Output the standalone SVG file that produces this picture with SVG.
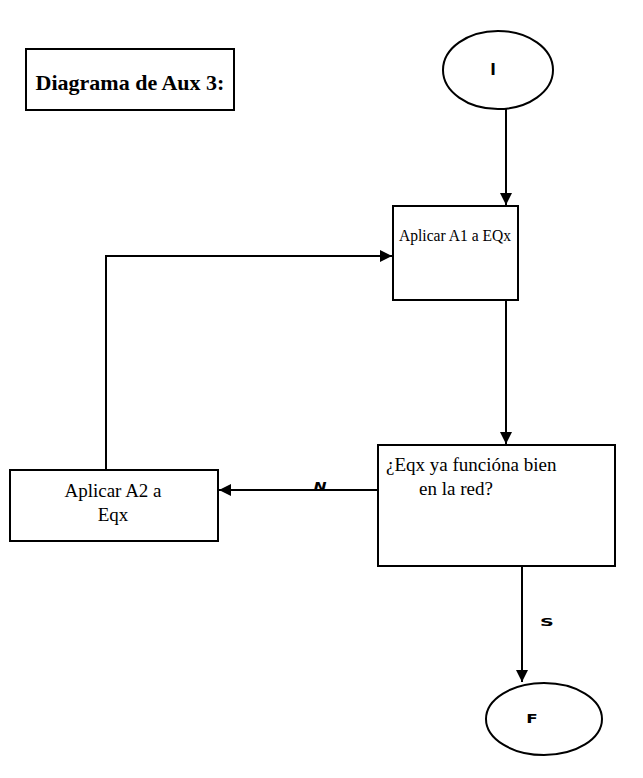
<svg xmlns="http://www.w3.org/2000/svg" width="643" height="778" viewBox="0 0 643 778">
<style>
.box{fill:#fff;stroke:#000;stroke-width:2}
.ln{fill:none;stroke:#000;stroke-width:2}
.t{font-family:"Liberation Serif","Times New Roman",serif;font-size:19px;fill:#000}
.t17{font-size:17px}
.title{font-family:"Liberation Serif","Times New Roman",serif;font-size:22px;font-weight:bold;fill:#000}
.lbl{font-family:"DejaVu Sans",sans-serif;font-weight:bold;font-size:12px;fill:#000}
</style>
<defs>
<marker id="ah" viewBox="0 0 10 10" refX="10" refY="5" markerWidth="6" markerHeight="6" orient="auto" markerUnits="strokeWidth">
<path d="M0,0 L10,5 L0,10 z" fill="#000"/>
</marker>
</defs>
<g id="title"><rect class="box" x="26" y="49" width="208" height="61"/><text class="title" x="130" y="90" text-anchor="middle">Diagrama de Aux 3:</text></g>
<g id="start"><ellipse class="box" cx="498" cy="70" rx="55" ry="39"/><text class="lbl" x="493" y="75" style="font-size:15px" text-anchor="middle">I</text></g>
<g id="a1"><rect class="box" x="393" y="206" width="125" height="94"/><text class="t t17" x="399" y="241" textLength="112" lengthAdjust="spacingAndGlyphs">Aplicar A1 a EQx</text></g>
<g id="dec"><rect class="box" x="378" y="445" width="237" height="121"/><text class="t" x="386" y="471">¿Eqx ya funcióna bien</text><text class="t" x="456" y="495" text-anchor="middle">en la red?</text></g>
<g id="a2"><rect class="box" x="10" y="470" width="208" height="71"/><text class="t" x="113" y="497" text-anchor="middle">Aplicar A2 a</text><text class="t" x="113" y="521" text-anchor="middle">Eqx</text></g>
<g id="end"><ellipse class="box" cx="544" cy="719" rx="58" ry="36"/><text class="lbl" transform="translate(532,723) scale(1.4,1)" text-anchor="middle">F</text></g>
<g id="connectors">
<path class="ln" d="M506,109 V205" marker-end="url(#ah)"/>
<path class="ln" d="M506,300 V444" marker-end="url(#ah)"/>
<path class="ln" d="M378,490 H219" marker-end="url(#ah)"/>
<path class="ln" d="M106,470 V256 H392" marker-end="url(#ah)"/>
<path class="ln" d="M522,566 V682" marker-end="url(#ah)"/>
<text class="lbl" transform="translate(320,491) scale(1.3,1)" font-style="italic" text-anchor="middle">N</text>
<text class="lbl" transform="translate(547,626) scale(1.6,0.9)" text-anchor="middle">S</text>
</g>
</svg>
